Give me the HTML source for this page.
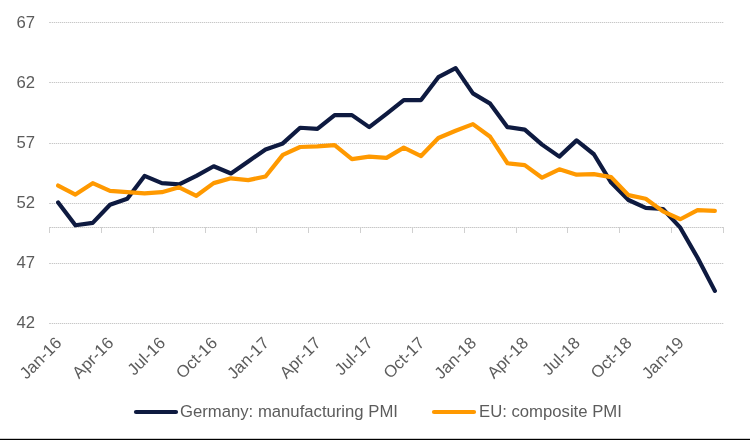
<!DOCTYPE html>
<html><head><meta charset="utf-8"><style>
html,body{margin:0;padding:0;background:#fff;}
body{width:750px;height:440px;overflow:hidden;position:relative;}
svg{position:absolute;left:0;top:0;will-change:transform;}
text{font-family:"Liberation Sans",sans-serif;fill:#5c5c5c;font-size:16.7px;}
</style></head><body>
<svg width="750" height="440" viewBox="0 0 750 440">
<rect x="0" y="0" width="750" height="440" fill="#fff"/>
<line x1="49" y1="22.5" x2="724" y2="22.5" stroke="#f0f0f0" stroke-width="1"/><line x1="50" y1="22.5" x2="723" y2="22.5" stroke="#c8c8c8" stroke-width="1" stroke-dasharray="1,1"/><line x1="49" y1="22.5" x2="51" y2="22.5" stroke="#d0d0d0" stroke-width="1"/>
<line x1="49" y1="82.5" x2="724" y2="82.5" stroke="#f0f0f0" stroke-width="1"/><line x1="50" y1="82.5" x2="723" y2="82.5" stroke="#c8c8c8" stroke-width="1" stroke-dasharray="1,1"/><line x1="49" y1="82.5" x2="51" y2="82.5" stroke="#d0d0d0" stroke-width="1"/>
<line x1="49" y1="143.5" x2="724" y2="143.5" stroke="#f0f0f0" stroke-width="1"/><line x1="50" y1="143.5" x2="723" y2="143.5" stroke="#c8c8c8" stroke-width="1" stroke-dasharray="1,1"/><line x1="49" y1="143.5" x2="51" y2="143.5" stroke="#d0d0d0" stroke-width="1"/>
<line x1="49" y1="203.5" x2="724" y2="203.5" stroke="#f0f0f0" stroke-width="1"/><line x1="50" y1="203.5" x2="723" y2="203.5" stroke="#c8c8c8" stroke-width="1" stroke-dasharray="1,1"/><line x1="49" y1="203.5" x2="51" y2="203.5" stroke="#d0d0d0" stroke-width="1"/>
<line x1="49" y1="263.5" x2="724" y2="263.5" stroke="#f0f0f0" stroke-width="1"/><line x1="50" y1="263.5" x2="723" y2="263.5" stroke="#c8c8c8" stroke-width="1" stroke-dasharray="1,1"/><line x1="49" y1="263.5" x2="51" y2="263.5" stroke="#d0d0d0" stroke-width="1"/>
<line x1="49" y1="323.5" x2="724" y2="323.5" stroke="#f0f0f0" stroke-width="1"/><line x1="50" y1="323.5" x2="723" y2="323.5" stroke="#c8c8c8" stroke-width="1" stroke-dasharray="1,1"/><line x1="49" y1="323.5" x2="51" y2="323.5" stroke="#d0d0d0" stroke-width="1"/>
<line x1="49" y1="227.5" x2="724" y2="227.5" stroke="#e6e6e6" stroke-width="1"/><line x1="50" y1="227.5" x2="723" y2="227.5" stroke="#c8c8c8" stroke-width="1" stroke-dasharray="1,1"/><line x1="49" y1="227.5" x2="51" y2="227.5" stroke="#c8c8c8" stroke-width="1"/>
<line x1="49.5" y1="227" x2="49.5" y2="233" stroke="#d0d0d0" stroke-width="1"/>
<line x1="101.5" y1="227" x2="101.5" y2="233" stroke="#d0d0d0" stroke-width="1"/>
<line x1="153.5" y1="227" x2="153.5" y2="233" stroke="#d0d0d0" stroke-width="1"/>
<line x1="205.5" y1="227" x2="205.5" y2="233" stroke="#d0d0d0" stroke-width="1"/>
<line x1="256.5" y1="227" x2="256.5" y2="233" stroke="#d0d0d0" stroke-width="1"/>
<line x1="308.5" y1="227" x2="308.5" y2="233" stroke="#d0d0d0" stroke-width="1"/>
<line x1="360.5" y1="227" x2="360.5" y2="233" stroke="#d0d0d0" stroke-width="1"/>
<line x1="412.5" y1="227" x2="412.5" y2="233" stroke="#d0d0d0" stroke-width="1"/>
<line x1="464.5" y1="227" x2="464.5" y2="233" stroke="#d0d0d0" stroke-width="1"/>
<line x1="516.5" y1="227" x2="516.5" y2="233" stroke="#d0d0d0" stroke-width="1"/>
<line x1="567.5" y1="227" x2="567.5" y2="233" stroke="#d0d0d0" stroke-width="1"/>
<line x1="619.5" y1="227" x2="619.5" y2="233" stroke="#d0d0d0" stroke-width="1"/>
<line x1="671.5" y1="227" x2="671.5" y2="233" stroke="#d0d0d0" stroke-width="1"/>
<line x1="723.5" y1="227" x2="723.5" y2="233" stroke="#d0d0d0" stroke-width="1"/>
<text x="35" y="28" text-anchor="end">67</text>
<text x="35" y="88" text-anchor="end">62</text>
<text x="35" y="148" text-anchor="end">57</text>
<text x="35" y="208" text-anchor="end">52</text>
<text x="35" y="268" text-anchor="end">47</text>
<text x="35" y="328" text-anchor="end">42</text>
<text transform="translate(62.6,344) rotate(-45)" text-anchor="end" font-size="15.5">Jan-16</text>
<text transform="translate(114.5,344) rotate(-45)" text-anchor="end" font-size="15.5">Apr-16</text>
<text transform="translate(166.3,344) rotate(-45)" text-anchor="end" font-size="15.5">Jul-16</text>
<text transform="translate(218.2,344) rotate(-45)" text-anchor="end" font-size="15.5">Oct-16</text>
<text transform="translate(270.0,344) rotate(-45)" text-anchor="end" font-size="15.5">Jan-17</text>
<text transform="translate(321.9,344) rotate(-45)" text-anchor="end" font-size="15.5">Apr-17</text>
<text transform="translate(373.7,344) rotate(-45)" text-anchor="end" font-size="15.5">Jul-17</text>
<text transform="translate(425.6,344) rotate(-45)" text-anchor="end" font-size="15.5">Oct-17</text>
<text transform="translate(477.4,344) rotate(-45)" text-anchor="end" font-size="15.5">Jan-18</text>
<text transform="translate(529.3,344) rotate(-45)" text-anchor="end" font-size="15.5">Apr-18</text>
<text transform="translate(581.1,344) rotate(-45)" text-anchor="end" font-size="15.5">Jul-18</text>
<text transform="translate(632.9,344) rotate(-45)" text-anchor="end" font-size="15.5">Oct-18</text>
<text transform="translate(684.8,344) rotate(-45)" text-anchor="end" font-size="15.5">Jan-19</text>

<polyline points="58.14,202.40 75.42,225.27 92.71,222.86 109.99,204.80 127.27,198.78 144.55,175.91 161.83,183.13 179.12,184.34 196.40,175.91 213.68,166.28 230.96,173.50 248.24,161.46 265.53,149.42 282.81,143.40 300.09,127.75 317.37,128.95 334.65,115.11 351.94,115.11 369.22,127.15 386.50,113.90 403.78,100.06 421.06,100.06 438.35,77.18 455.63,68.15 472.91,93.43 490.19,103.67 507.47,127.15 524.76,129.55 542.04,144.60 559.32,156.64 576.60,140.39 593.88,154.24 611.17,182.53 628.45,199.99 645.73,207.81 663.01,209.02 680.29,227.68 697.58,257.78 714.86,290.89" fill="none" stroke="#0e1a40" stroke-width="4.2" stroke-linejoin="round" stroke-linecap="round"/>
<polyline points="58.14,185.54 75.42,194.57 92.71,183.13 109.99,190.96 127.27,192.16 144.55,193.37 161.83,192.16 179.12,187.35 196.40,195.77 213.68,183.13 230.96,178.32 248.24,180.12 265.53,176.51 282.81,154.84 300.09,147.01 317.37,146.41 334.65,145.21 351.94,159.05 369.22,156.64 386.50,157.85 403.78,147.61 421.06,156.04 438.35,137.98 455.63,130.76 472.91,124.14 490.19,136.78 507.47,163.27 524.76,165.07 542.04,177.71 559.32,169.29 576.60,174.70 593.88,174.10 611.17,177.11 628.45,195.17 645.73,198.78 663.01,211.43 680.29,219.25 697.58,210.22 714.86,210.82" fill="none" stroke="#ff9900" stroke-width="4.2" stroke-linejoin="round" stroke-linecap="round"/>
<line x1="136" y1="412" x2="176" y2="412" stroke="#0e1a40" stroke-width="4.2" stroke-linecap="round"/>
<text x="180" y="417">Germany: manufacturing PMI</text>
<line x1="434" y1="412" x2="474" y2="412" stroke="#ff9900" stroke-width="4.2" stroke-linecap="round"/>
<text x="479" y="417">EU: composite PMI</text>
<rect x="0" y="438.8" width="750" height="1.2" fill="#000"/>
</svg>
</body></html>
